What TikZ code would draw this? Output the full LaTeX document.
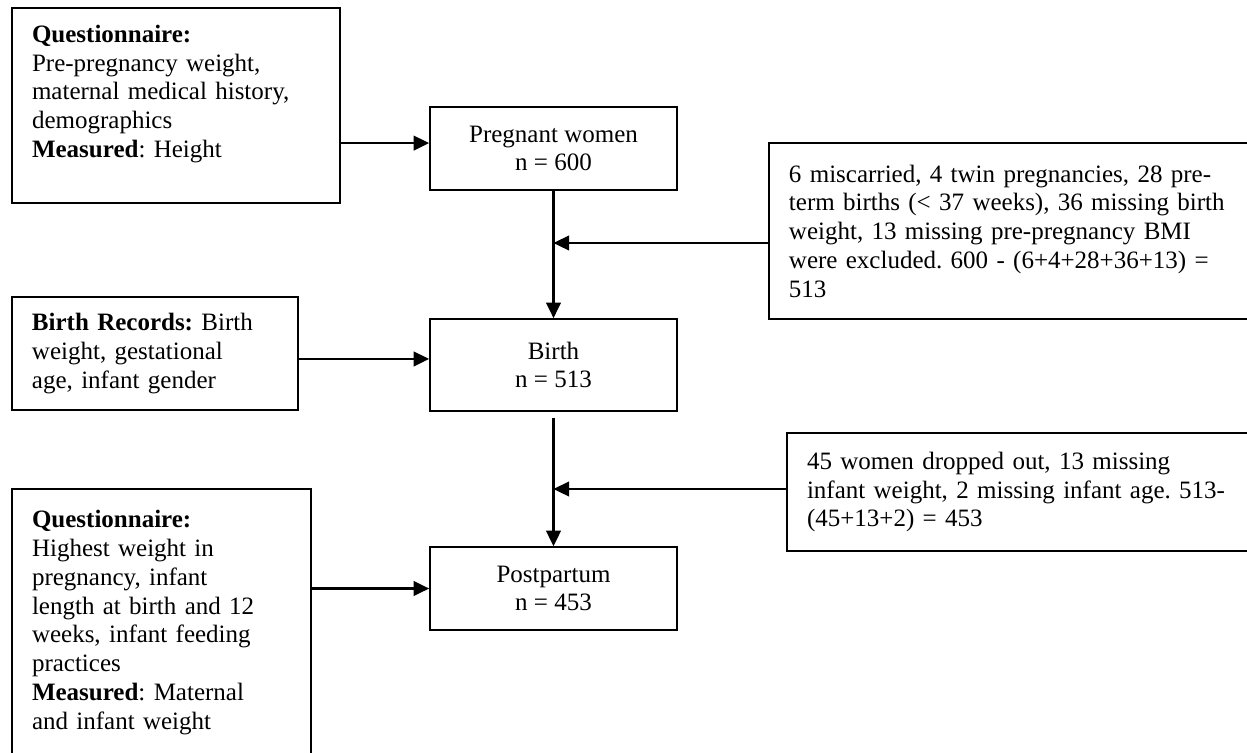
\documentclass[tikz,border=0pt]{standalone}
\usepackage{fontspec}
\setmainfont{Liberation Serif}
\usepackage{xcolor}
\usepackage{tikz}
\usetikzlibrary{arrows.meta, positioning, calc}
\frenchspacing
\definecolor{inkblack}{RGB}{0, 0, 0}
\tikzstyle{infobox} = [
    rectangle,
    draw=inkblack,
    line width=0.75pt,
    align=left,
    inner xsep=9.6pt,
    inner ysep=3pt,
    font=\fontsize{12pt}{13.8pt}\selectfont
]
\tikzstyle{stage} = [
    rectangle,
    draw=inkblack,
    line width=0.75pt,
    minimum width=118.6pt,
    minimum height=39.8pt,
    align=center,
    font=\fontsize{12pt}{13.8pt}\selectfont
]
\tikzstyle{arrow} = [
    line width=1.2pt,
    -{Triangle[length=7.5pt, width=7pt]},
    color=inkblack
]

\begin{document}
\begin{tikzpicture}[x=0.48pt, y=-0.48pt]
        \useasboundingbox (0,0) rectangle (1247,752);
        \clip (0,0) rectangle (1247,752);

        % Stages
        \node[stage] (pregnant) at (553.5, 148.5) {Pregnant women\\n = 600};
        \node[stage, minimum height=44.2pt] (birth) at (553.5, 365) {Birth\\n = 513};
        \node[stage] (postpartum) at (553.5, 588.5) {Postpartum\\n = 453};

        % Data sources
        \node[infobox, text width=138.2pt, minimum height=93.6pt] (quest1) at (176, 105.5)
            {\textbf{Questionnaire:}\\Pre-pregnancy weight,\\maternal medical history,\\demographics\\\textbf{Measured}: Height\\ \mbox{}};
        \node[infobox, text width=118.1pt, minimum height=54.2pt] (records) at (155, 353.5)
            {\textbf{Birth Records:} Birth\\weight, gestational\\age, infant gender};
        \node[infobox, text width=124.3pt, minimum height=128.2pt] (quest2) at (161.5, 622.5)
            {\textbf{Questionnaire:}\\Highest weight in\\pregnancy, infant\\length at birth and 12\\weeks, infant feeding\\practices\\\textbf{Measured}: Maternal\\and infant weight};

        % Exclusions
        \node[infobox, text width=230.9pt, minimum height=84.5pt] (excl1) at (1029.5, 231)
            {6 miscarried, 4 twin pregnancies, 28 pre-\\term births (< 37 weeks), 36 missing birth\\weight, 13 missing pre-pregnancy BMI\\were excluded. 600 - (6+4+28+36+13) =\\513};
        \node[infobox, text width=222.2pt, minimum height=56.6pt] (excl2) at (1038.5, 492)
            {45 women dropped out, 13 missing\\infant weight, 2 missing infant age. 513-\\(45+13+2) = 453};

        \coordinate (pregin) at ([yshift=2.6pt]pregnant.west);
        \coordinate (birthin) at ([yshift=2.9pt]birth.west);
        \coordinate (cut1) at (553.5, 243);
        \coordinate (cut2) at (553.5, 489);

        % Arrows
        \draw[arrow] (quest1.east |- pregin) -- (pregin);
        \draw[arrow] (records.east |- birthin) -- (birthin);
        \draw[arrow] (quest2.east |- postpartum.west) -- (postpartum.west);
        \draw[arrow] (pregnant.south) -- (birth.north);
        \draw[arrow] ([yshift=-2.9pt]birth.south) -- (postpartum.north);
        \draw[arrow] (excl1.west |- cut1) -- (cut1);
        \draw[arrow] (excl2.west |- cut2) -- (cut2);
    \end{tikzpicture}
\end{document}
